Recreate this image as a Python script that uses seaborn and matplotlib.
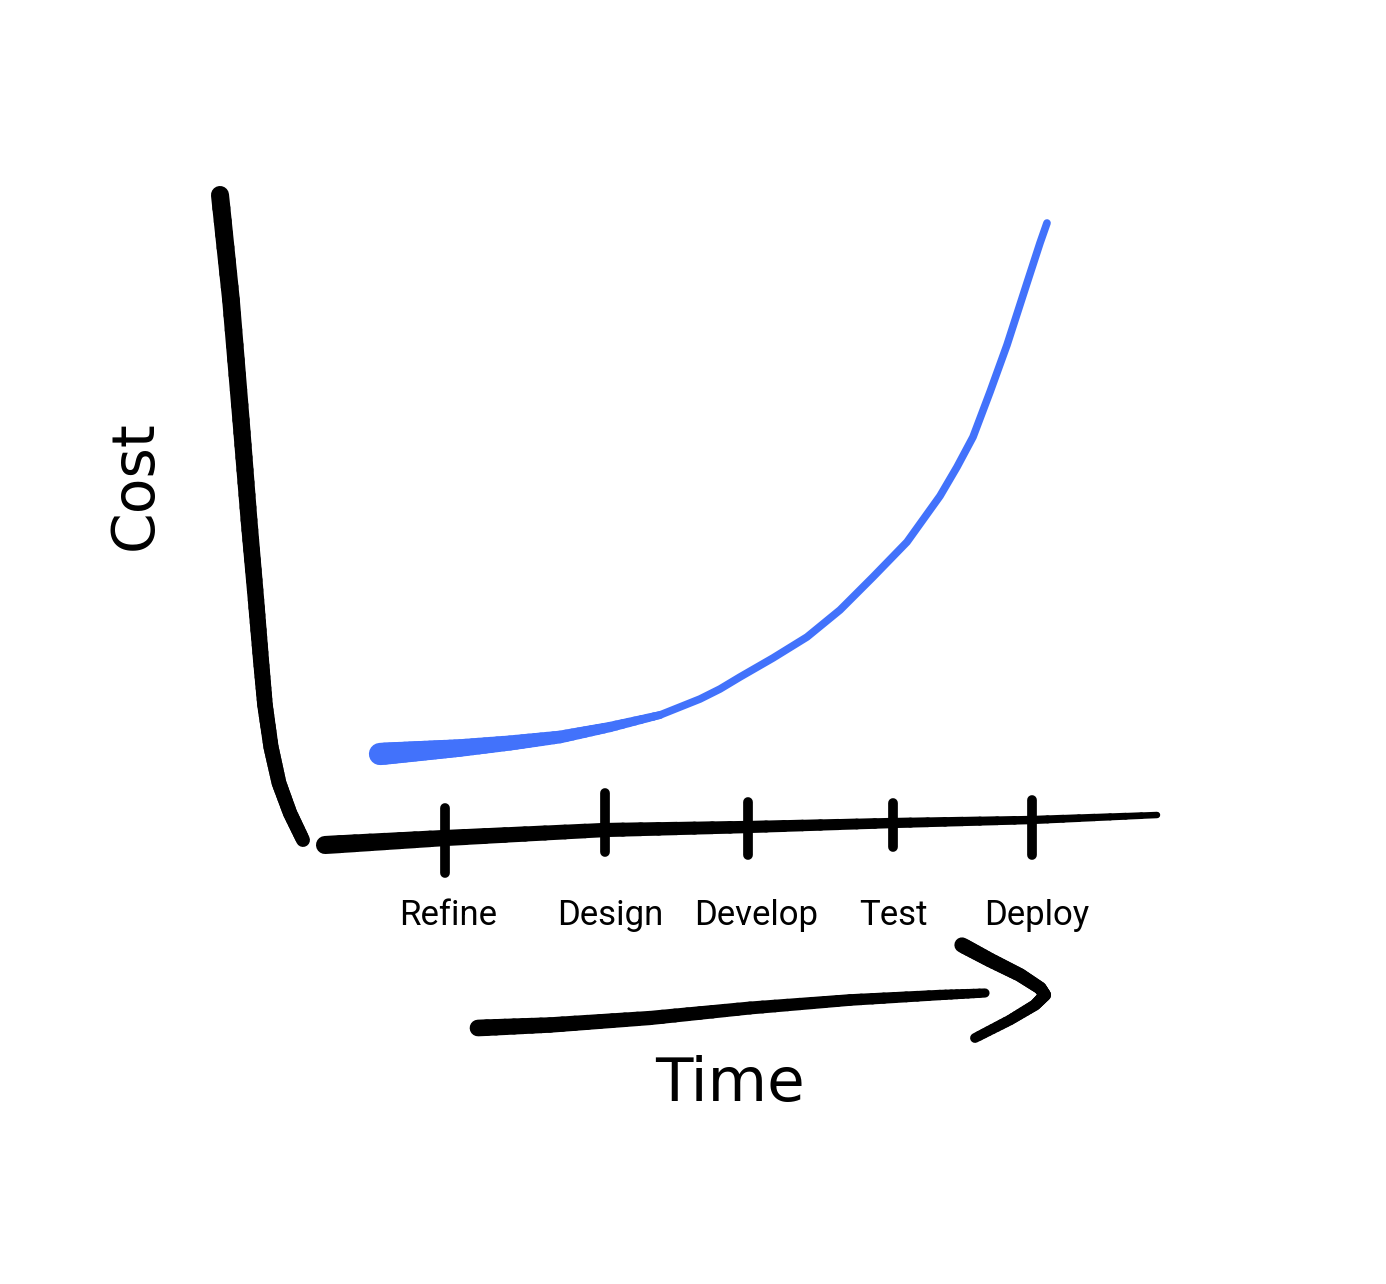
import numpy as np
import matplotlib
matplotlib.use("Agg")
import matplotlib.pyplot as plt
import seaborn as sns
import pandas as pd

# stages along the time axis
stages = ["Refine", "Design", "Develop", "Test", "Deploy"]
stage_time = [1.35, 2.95, 4.38, 5.83, 7.22]
label_time = [1.38, 3.00, 4.46, 5.83, 7.27]
tick_top = [0.37, 0.52, 0.43, 0.42, 0.45]
tick_bottom = [-0.28, -0.07, -0.10, -0.02, -0.10]

# cost curve (blue)
curve_time = [0.70, 1.10, 1.50, 2.00, 2.50, 3.00, 3.50, 3.90, 4.10, 4.30, 4.63,
              4.97, 5.30, 5.63, 5.97, 6.30, 6.47, 6.63, 6.80, 6.97, 7.17, 7.30,
              7.37]
curve_cost = [0.91, 0.94, 0.97, 1.02, 1.08, 1.18, 1.30, 1.46, 1.56, 1.68, 1.87,
              2.08, 2.35, 2.68, 3.03, 3.49, 3.78, 4.08, 4.53, 5.00, 5.62, 6.02,
              6.22]

# hand drawn axes
yaxis_x = [-0.90, -0.79, -0.69, -0.61, -0.54, -0.49, -0.45, -0.39, -0.31, -0.20, -0.07]
yaxis_y = [6.50, 5.45, 4.25, 3.25, 2.45, 1.85, 1.40, 0.98, 0.62, 0.32, 0.05]
xaxis_x = [0.15, 1.35, 2.95, 4.38, 5.83, 7.22, 8.47]
xaxis_y = [0.00, 0.07, 0.15, 0.18, 0.22, 0.25, 0.30]

# time arrow
shaft_x = [1.68, 2.40, 3.40, 4.40, 5.40, 6.30, 6.75]
shaft_y = [-1.83, -1.80, -1.73, -1.63, -1.55, -1.50, -1.48]
head_x = [6.52, 6.80, 7.10, 7.30, 7.35, 7.25, 7.00, 6.65]
head_y = [-1.00, -1.15, -1.30, -1.43, -1.50, -1.60, -1.75, -1.93]

sns.set_theme(style="white")
plt.rcParams['font.family'] = ['Roboto', 'DejaVu Sans']

fig = plt.figure(figsize=(13.86, 12.84), dpi=100)
ax = fig.add_axes([0, 0, 1, 1])
ax.set_xlim(-3.10, 10.76)
ax.set_ylim(-4.39, 8.45)
ax.axis("off")


def stroke(x, y, w0, w1, color="black", sub=8):
    # taper the pen width from w0 to w1, drawing each straight piece in small bits
    n = len(x) - 1
    for i in range(n):
        for k in range(sub):
            f0, f1 = k / sub, (k + 1) / sub
            xs = [x[i] + (x[i + 1] - x[i]) * f0, x[i] + (x[i + 1] - x[i]) * f1]
            ys = [y[i] + (y[i + 1] - y[i]) * f0, y[i] + (y[i + 1] - y[i]) * f1]
            w = w0 + (w1 - w0) * (i + f0) / n
            ax.plot(xs, ys, color=color, lw=w, solid_capstyle="round")


stroke(yaxis_x, yaxis_y, 13, 10)
stroke(xaxis_x, xaxis_y, 13, 4.5)
for t, a, b in zip(stage_time, tick_top, tick_bottom):
    ax.plot([t, t], [a, b], color="black", lw=7, solid_capstyle="round")

blue = "#4272fb"
df = pd.DataFrame({"time": curve_time, "cost": curve_cost})
sns.lineplot(data=df, x="time", y="cost", ax=ax, color=blue, lw=5.5,
             sort=False, estimator=None, solid_capstyle="round",
             solid_joinstyle="round")
stroke(curve_time[:7], curve_cost[:7], 16, 5.5, color=blue)

stroke(shaft_x, shaft_y, 12, 6.5)
stroke(head_x, head_y, 11, 7)

for s, t in zip(stages, label_time):
    ax.text(t, -0.80, s, ha="center", va="baseline", fontsize=25,
            color="black")

ax.text(4.20, -2.40, "Time", ha="center", va="center", fontsize=44,
        family=['DejaVu Sans'], color="black")
ax.text(-1.75, 3.60, "Cost", ha="center", va="center", fontsize=42,
        rotation=90, family=['DejaVu Sans'], color="black")

fig.savefig("out.png", dpi=100, facecolor="white")
